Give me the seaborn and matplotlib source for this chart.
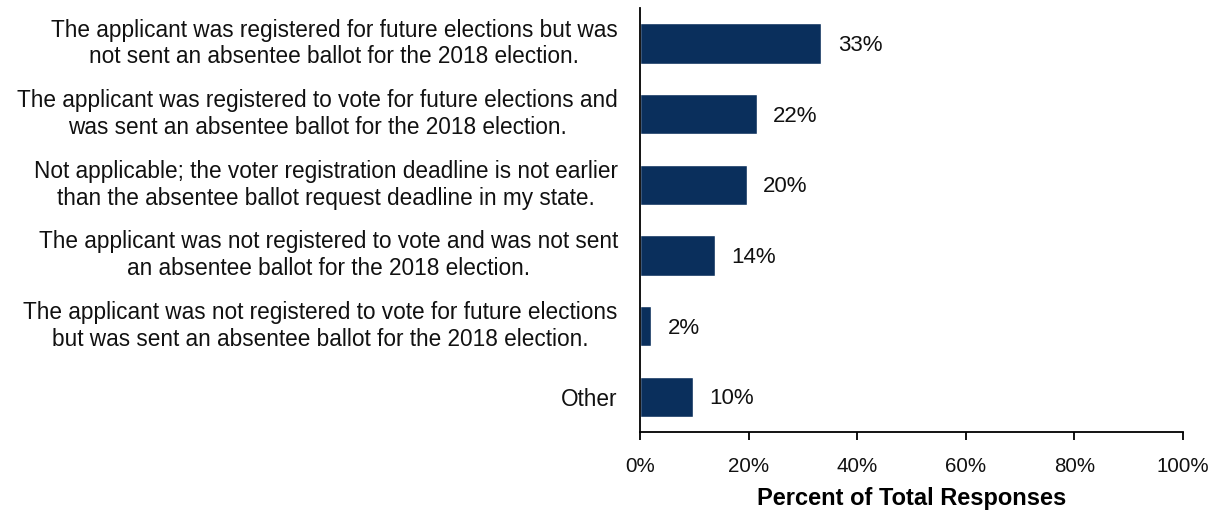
import matplotlib
matplotlib.use("Agg")
import matplotlib.pyplot as plt
import seaborn as sns
import pandas as pd
from matplotlib.ticker import PercentFormatter

categories = [
    "The applicant was registered for future elections but was\nnot sent an absentee ballot for the 2018 election.",
    "The applicant was registered to vote for future elections and\nwas sent an absentee ballot for the 2018 election.",
    "Not applicable; the voter registration deadline is not earlier\nthan the absentee ballot request deadline in my state.",
    "The applicant was not registered to vote and was not sent\nan absentee ballot for the 2018 election.",
    "The applicant was not registered to vote for future elections\nbut was sent an absentee ballot for the 2018 election.",
    "Other",
]
percent = [33.4, 21.5, 19.7, 13.8, 2.1, 9.8]
value_labels = ["33%", "22%", "20%", "14%", "2%", "10%"]
x_ticks = [0, 20, 40, 60, 80, 100]

sns.set_theme(style="white")
plt.rcParams["font.family"] = ["Liberation Sans", "DejaVu Sans"]

df = pd.DataFrame({"category": categories, "percent": percent})

fig = plt.figure(figsize=(12.2, 5.13), dpi=100)
ax = fig.add_axes([0.5246, 0.158, 0.4451, 0.826])

sns.barplot(data=df, x="percent", y="category", color="#0a2f5c",
            width=0.57, saturation=1, ax=ax, orient="h")

for i, (v, lab) in enumerate(zip(percent, value_labels)):
    ax.text(v + 3.0, i + 0.03, lab, va="center", ha="left", fontsize=16, color="#111111")

ax.set_xlim(0, 100)
ax.set_ylim(5.5, -0.5)
ax.set_xticks(x_ticks)
ax.xaxis.set_major_formatter(PercentFormatter(decimals=0))
ax.tick_params(axis="x", which="major", direction="out", length=6, width=1.3,
               color="black", labelsize=14.8, pad=12, bottom=True)
ax.tick_params(axis="y", length=0, labelsize=16.3, pad=16)
for lab in ax.get_yticklabels():
    lab.set_horizontalalignment("right")
    lab.set_multialignment("center")
    lab.set_linespacing(1.22)
    if "\n" in lab.get_text():
        lab.set_verticalalignment("center")

ax.set_ylabel("")
ax.set_xlabel("Percent of Total Responses", fontsize=17, fontweight="bold",
              labelpad=8, color="black")

sns.despine(ax=ax, top=True, right=True)
for side in ("left", "bottom"):
    ax.spines[side].set_color("black")
    ax.spines[side].set_linewidth(1.3)

for lab in ax.get_xticklabels() + ax.get_yticklabels():
    lab.set_color("#111111")

fig.savefig("out.png", dpi=100, facecolor="white")
